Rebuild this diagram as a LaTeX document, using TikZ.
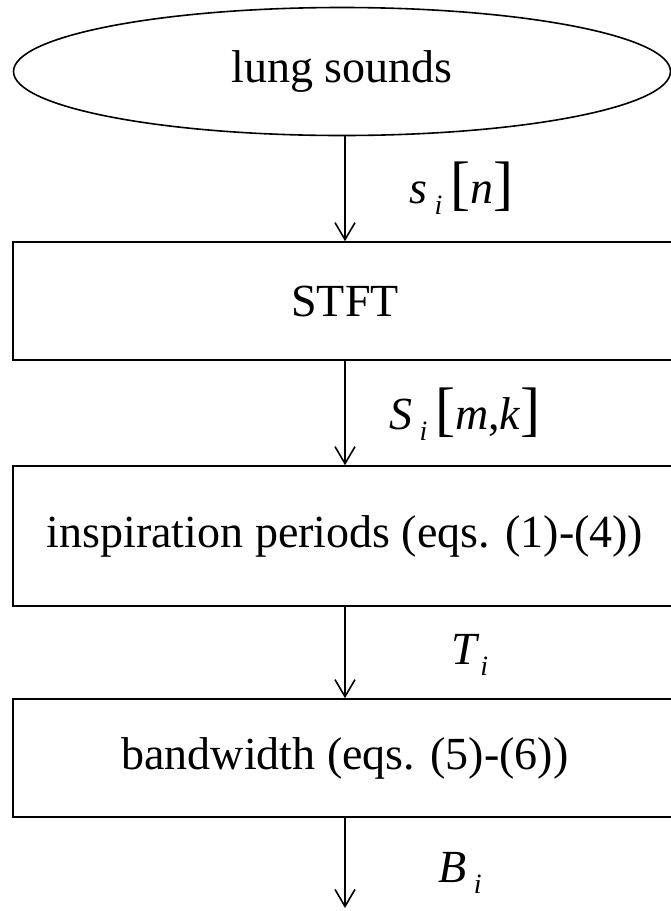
\documentclass[tikz,border=0pt]{standalone}
\usepackage{fontspec}
\setmainfont{Liberation Serif}
\usetikzlibrary{shapes.geometric,arrows.meta,positioning}

\newcommand{\lowidx}[1]{\raisebox{-0.5ex}{\fontsize{28}{30}\selectfont\itshape #1}}
\newcommand{\bigbr}[1]{{\fontsize{60}{62}\selectfont #1}}

\begin{document}
\begin{tikzpicture}[
    x=1pt, y=-1pt,
    every node/.style={
        font=\fontsize{46}{55}\selectfont,
        inner sep=0pt
    },
    block/.style={
        draw, line width=1.6pt,
        minimum width=664pt,
        minimum height=118pt
    },
    flow/.style={
        line width=1.6pt,
        -{Straight Barb[length=17pt,width=20pt]}
    }
]
\useasboundingbox (0,0) rectangle (671,911);
\clip (0,0) rectangle (671,911);

\node[draw, ellipse, line width=1.6pt,
      minimum width=657pt, minimum height=128pt] (sounds) at (342,71.5) {lung sounds};
\node[block] (stft) at (345,301) {STFT};
\node[block, minimum height=140pt] (insp) at (345,536) {inspiration periods (eqs. (1)-(4))};
\node[block] (band) at (345,758) {bandwidth (eqs. (5)-(6))};
\coordinate (out) at (345,908);

\draw[flow] (sounds.south -| stft.north) -- (stft.north);
\draw[flow] (stft.south) -- (insp.north);
\draw[flow] (insp.south) -- (band.north);
\draw[flow] (band.south) -- (out);

\node (sig) at (461,188) {\textit{s}\,\lowidx{i}\,\bigbr{[}\textit{n}\bigbr{]}};
\node (spec) at (465,414) {\textit{S}\,\lowidx{i}\,\bigbr{[}\textit{m},\textit{k}\bigbr{]}};
\node (per) at (470,655) {\textit{T}\lowidx{i}};
\node (bwd) at (460,873) {\textit{B}\,\lowidx{i}};
\end{tikzpicture}
\end{document}
